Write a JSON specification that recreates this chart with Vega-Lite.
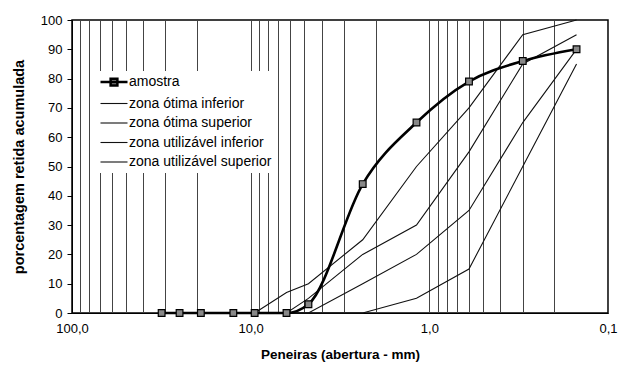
{
  "$schema": "https://vega.github.io/schema/vega-lite/v6.json",
  "width": 536,
  "height": 293,
  "autosize": "none",
  "padding": {"left": 72, "top": 20, "right": 11, "bottom": 54},
  "background": "white",
  "config": {
    "view": {"stroke": "#000", "strokeWidth": 1.5},
    "font": "Liberation Sans",
    "axis": {"labelColor": "#000", "titleColor": "#000", "domainColor": "#000", "tickColor": "#000"}
  },
  "data": {
    "values": [
      {"serie": "amostra", "abertura": 31.5, "pct": 0},
      {"serie": "amostra", "abertura": 25, "pct": 0},
      {"serie": "amostra", "abertura": 19, "pct": 0},
      {"serie": "amostra", "abertura": 12.5, "pct": 0},
      {"serie": "amostra", "abertura": 9.5, "pct": 0},
      {"serie": "amostra", "abertura": 6.3, "pct": 0},
      {"serie": "amostra", "abertura": 4.75, "pct": 3},
      {"serie": "amostra", "abertura": 2.36, "pct": 44},
      {"serie": "amostra", "abertura": 1.18, "pct": 65},
      {"serie": "amostra", "abertura": 0.6, "pct": 79},
      {"serie": "amostra", "abertura": 0.3, "pct": 86},
      {"serie": "amostra", "abertura": 0.15, "pct": 90},
      {"serie": "zona ótima inferior", "abertura": 9.5, "pct": 0},
      {"serie": "zona ótima inferior", "abertura": 6.3, "pct": 0},
      {"serie": "zona ótima inferior", "abertura": 4.75, "pct": 0},
      {"serie": "zona ótima inferior", "abertura": 2.36, "pct": 10},
      {"serie": "zona ótima inferior", "abertura": 1.18, "pct": 20},
      {"serie": "zona ótima inferior", "abertura": 0.6, "pct": 35},
      {"serie": "zona ótima inferior", "abertura": 0.3, "pct": 65},
      {"serie": "zona ótima inferior", "abertura": 0.15, "pct": 90},
      {"serie": "zona ótima superior", "abertura": 9.5, "pct": 0},
      {"serie": "zona ótima superior", "abertura": 6.3, "pct": 0},
      {"serie": "zona ótima superior", "abertura": 4.75, "pct": 5},
      {"serie": "zona ótima superior", "abertura": 2.36, "pct": 20},
      {"serie": "zona ótima superior", "abertura": 1.18, "pct": 30},
      {"serie": "zona ótima superior", "abertura": 0.6, "pct": 55},
      {"serie": "zona ótima superior", "abertura": 0.3, "pct": 85},
      {"serie": "zona ótima superior", "abertura": 0.15, "pct": 95},
      {"serie": "zona utilizável inferior", "abertura": 9.5, "pct": 0},
      {"serie": "zona utilizável inferior", "abertura": 6.3, "pct": 0},
      {"serie": "zona utilizável inferior", "abertura": 4.75, "pct": 0},
      {"serie": "zona utilizável inferior", "abertura": 2.36, "pct": 0},
      {"serie": "zona utilizável inferior", "abertura": 1.18, "pct": 5},
      {"serie": "zona utilizável inferior", "abertura": 0.6, "pct": 15},
      {"serie": "zona utilizável inferior", "abertura": 0.3, "pct": 50},
      {"serie": "zona utilizável inferior", "abertura": 0.15, "pct": 85},
      {"serie": "zona utilizável superior", "abertura": 9.5, "pct": 0},
      {"serie": "zona utilizável superior", "abertura": 6.3, "pct": 7},
      {"serie": "zona utilizável superior", "abertura": 4.75, "pct": 10},
      {"serie": "zona utilizável superior", "abertura": 2.36, "pct": 25},
      {"serie": "zona utilizável superior", "abertura": 1.18, "pct": 50},
      {"serie": "zona utilizável superior", "abertura": 0.6, "pct": 70},
      {"serie": "zona utilizável superior", "abertura": 0.3, "pct": 95},
      {"serie": "zona utilizável superior", "abertura": 0.15, "pct": 100}
    ]
  },
  "encoding": {
    "x": {
      "field": "abertura", "type": "quantitative",
      "scale": {"type": "log", "domain": [0.1, 100], "reverse": true, "nice": false},
      "axis": {
        "title": "Peneiras (abertura - mm)",
        "titleFontSize": 13.5, "titleFontWeight": "bold", "titlePadding": 12,
        "labelFontSize": 13, "labelPadding": 9,
        "values": [100, 90, 80, 70, 60, 50, 40, 30, 20, 10, 9, 8, 7, 6, 5, 4, 3, 2, 1, 0.9, 0.8, 0.7, 0.6, 0.5, 0.4, 0.3, 0.2, 0.1],
        "labelExpr": "datum.value == 100 ? '100,0' : datum.value == 10 ? '10,0' : datum.value == 1 ? '1,0' : datum.value == 0.1 ? '0,1' : ''",
        "labelOverlap": false, "labelFlush": false,
        "ticks": false,
        "grid": true, "gridColor": "#444", "gridWidth": 1, "gridOpacity": 1
      }
    },
    "y": {
      "field": "pct", "type": "quantitative",
      "scale": {"domain": [0, 100], "nice": false},
      "axis": {
        "title": "porcentagem retida acumulada",
        "titleFontSize": 14.5, "titleFontWeight": "bold", "titlePadding": 14,
        "labelFontSize": 13, "labelPadding": 5,
        "values": [0, 10, 20, 30, 40, 50, 60, 70, 80, 90, 100],
        "tickSize": 5, "grid": false
      }
    }
  },
  "layer": [
    {
      "transform": [{"filter": "datum.serie != 'amostra'"}],
      "mark": {"type": "line", "strokeWidth": 1.1},
      "encoding": {
        "color": {
          "field": "serie", "type": "nominal",
          "scale": {
            "domain": ["amostra", "zona ótima inferior", "zona ótima superior", "zona utilizável inferior", "zona utilizável superior"],
            "range": ["#000", "#111", "#111", "#111", "#111"]
          },
          "legend": {
            "orient": "none", "legendX": 21, "legendY": 51,
            "title": null, "fillColor": "white", "padding": 4,
            "labelFontSize": 14, "labelColor": "#000", "labelOffset": 8,
            "symbolSize": 729, "symbolOffset": 10, "rowPadding": 5.5,
            "encode": {
              "symbols": {
                "update": {
                  "shape": {"signal": "datum.value === 'amostra' ? 'M-1,0H1M-0.25,-0.25H0.25V0.25H-0.25Z' : 'M-1,0H1'"},
                  "fill": {"signal": "datum.value === 'amostra' ? '#888' : 'transparent'"},
                  "stroke": {"value": "#000"},
                  "strokeWidth": {"signal": "datum.value === 'amostra' ? 2.5 : 1.1"},
                  "opacity": {"value": 1}
                }
              }
            }
          }
        }
      }
    },
    {
      "transform": [{"filter": "datum.serie == 'amostra'"}],
      "mark": {"type": "line", "strokeWidth": 2.6, "interpolate": "monotone", "color": "#000"},
      "encoding": {}
    },
    {
      "transform": [{"filter": "datum.serie == 'amostra'"}],
      "mark": {"type": "point", "shape": "square", "filled": true, "size": 45, "fill": "#888", "stroke": "#000", "strokeWidth": 1.2, "opacity": 1},
      "encoding": {}
    }
  ]
}
